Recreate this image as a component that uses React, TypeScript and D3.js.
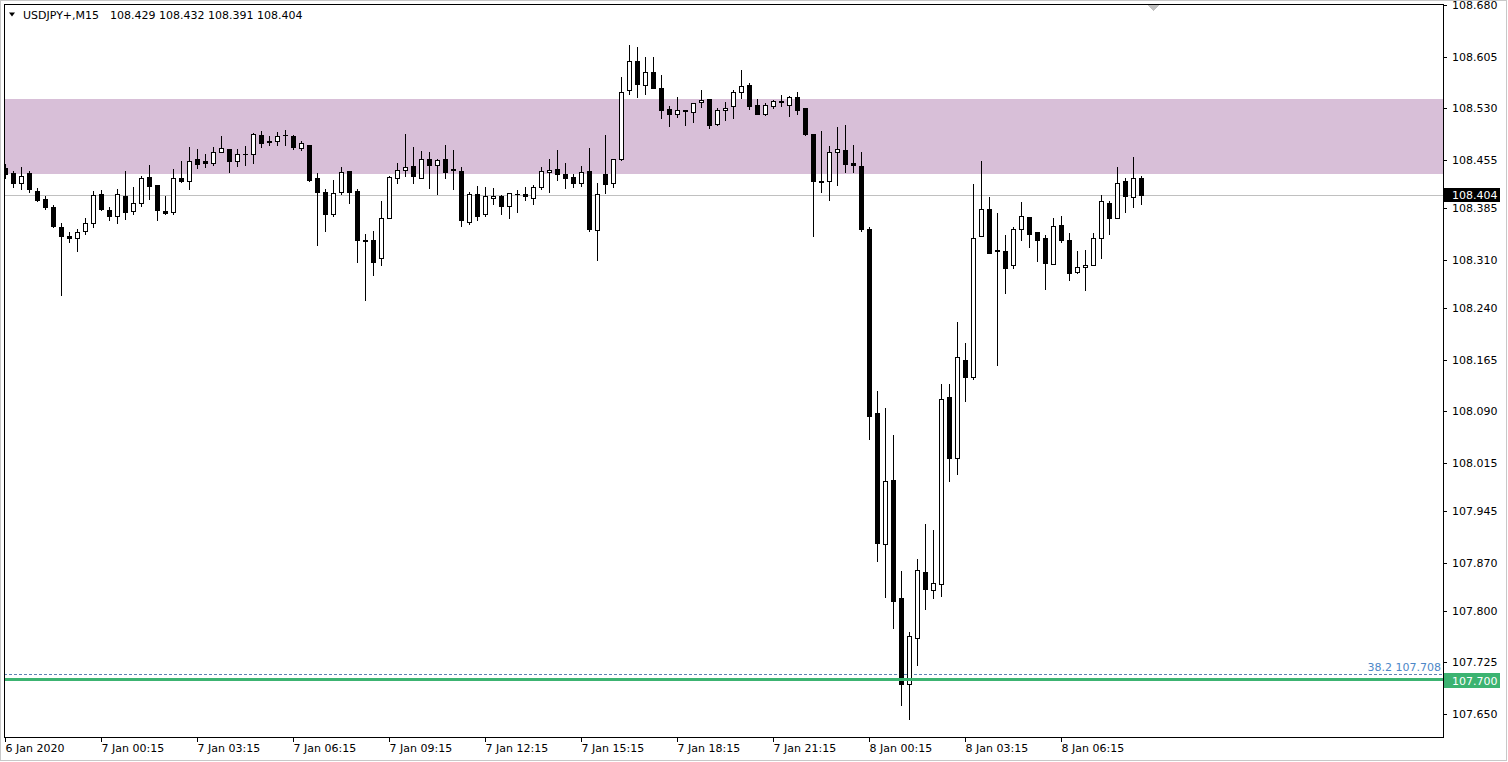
import React, { useEffect } from "react";
import * as d3 from "d3";

// ---- data ----
const opens = [
  108.443, 108.436, 108.422, 108.436, 108.410, 108.398, 108.387, 108.357, 108.345, 108.341,
  108.351, 108.364, 108.405, 108.382, 108.373, 108.402, 108.381, 108.393, 108.430, 108.419,
  108.381, 108.379, 108.428, 108.425, 108.456, 108.453, 108.451, 108.467, 108.471, 108.454,
  108.464, 108.463, 108.491, 108.483, 108.483, 108.491, 108.490, 108.472, 108.477, 108.428,
  108.408, 108.377, 108.408, 108.439, 108.410, 108.338, 108.338, 108.312, 108.370, 108.429,
  108.440, 108.446, 108.429, 108.457, 108.447, 108.457, 108.442, 108.439, 108.365, 108.405,
  108.377, 108.399, 108.402, 108.388, 108.405, 108.405, 108.400, 108.415, 108.438, 108.442,
  108.434, 108.430, 108.422, 108.439, 108.353, 108.434, 108.422, 108.457, 108.556, 108.598,
  108.564, 108.583, 108.560, 108.529, 108.521, 108.528, 108.524, 108.539, 108.543, 108.507,
  108.528, 108.533, 108.553, 108.564, 108.535, 108.521, 108.533, 108.540, 108.534, 108.547,
  108.530, 108.492, 108.425, 108.425, 108.466, 108.469, 108.450, 108.446, 108.355, 108.087,
  107.897, 107.990, 107.818, 107.694, 107.760, 107.856, 107.830, 107.839, 108.111, 108.022,
  108.164, 108.139, 108.344, 108.383, 108.324, 108.323, 108.303, 108.354, 108.372, 108.350,
  108.341, 108.304, 108.360, 108.338, 108.292, 108.299, 108.303, 108.341, 108.393, 108.370,
  108.424, 108.401, 108.429,
];
const highs = [
  108.449, 108.439, 108.445, 108.439, 108.414, 108.402, 108.389, 108.364, 108.350, 108.354,
  108.370, 108.410, 108.411, 108.386, 108.413, 108.439, 108.416, 108.432, 108.448, 108.419,
  108.402, 108.442, 108.454, 108.474, 108.471, 108.464, 108.474, 108.490, 108.471, 108.471,
  108.475, 108.494, 108.497, 108.490, 108.495, 108.498, 108.491, 108.482, 108.477, 108.436,
  108.412, 108.426, 108.445, 108.439, 108.413, 108.347, 108.352, 108.395, 108.431, 108.451,
  108.492, 108.474, 108.468, 108.466, 108.457, 108.477, 108.469, 108.445, 108.408, 108.417,
  108.416, 108.414, 108.404, 108.407, 108.411, 108.416, 108.418, 108.445, 108.457, 108.469,
  108.450, 108.435, 108.446, 108.472, 108.421, 108.491, 108.457, 108.575, 108.622, 108.619,
  108.605, 108.604, 108.579, 108.533, 108.546, 108.528, 108.537, 108.556, 108.543, 108.531,
  108.539, 108.556, 108.585, 108.566, 108.543, 108.537, 108.542, 108.549, 108.548, 108.553,
  108.530, 108.492, 108.497, 108.475, 108.503, 108.505, 108.477, 108.466, 108.357, 108.119,
  108.094, 108.056, 107.858, 107.769, 107.875, 107.926, 107.917, 108.129, 108.129, 108.219,
  108.189, 108.420, 108.453, 108.401, 108.378, 108.346, 108.357, 108.394, 108.372, 108.350,
  108.346, 108.370, 108.374, 108.349, 108.322, 108.324, 108.349, 108.404, 108.395, 108.445,
  108.428, 108.459, 108.432,
];
const lows = [
  108.428, 108.416, 108.412, 108.408, 108.395, 108.384, 108.357, 108.258, 108.335, 108.322,
  108.348, 108.357, 108.382, 108.368, 108.364, 108.369, 108.377, 108.388, 108.398, 108.367,
  108.377, 108.376, 108.423, 108.413, 108.443, 108.444, 108.448, 108.467, 108.437, 108.446,
  108.447, 108.451, 108.474, 108.476, 108.476, 108.476, 108.471, 108.470, 108.424, 108.332,
  108.351, 108.374, 108.405, 108.393, 108.306, 108.251, 108.288, 108.302, 108.370, 108.422,
  108.432, 108.422, 108.428, 108.414, 108.405, 108.429, 108.412, 108.359, 108.362, 108.367,
  108.373, 108.391, 108.377, 108.370, 108.380, 108.397, 108.391, 108.412, 108.408, 108.426,
  108.414, 108.415, 108.417, 108.351, 108.309, 108.407, 108.415, 108.455, 108.550, 108.547,
  108.551, 108.559, 108.516, 108.504, 108.517, 108.505, 108.510, 108.532, 108.502, 108.505,
  108.513, 108.516, 108.545, 108.529, 108.521, 108.520, 108.531, 108.533, 108.519, 108.521,
  108.491, 108.344, 108.409, 108.396, 108.418, 108.437, 108.438, 108.351, 108.049, 107.872,
  107.820, 107.775, 107.663, 107.643, 107.721, 107.802, 107.819, 107.822, 107.988, 107.998,
  108.105, 108.137, 108.344, 108.319, 108.157, 108.262, 108.298, 108.339, 108.328, 108.308,
  108.267, 108.304, 108.335, 108.281, 108.290, 108.266, 108.303, 108.313, 108.348, 108.370,
  108.380, 108.387, 108.391,
];
const closes = [
  108.434, 108.422, 108.431, 108.412, 108.396, 108.386, 108.359, 108.344, 108.342, 108.350,
  108.364, 108.404, 108.383, 108.373, 108.405, 108.380, 108.393, 108.428, 108.417, 108.382,
  108.378, 108.428, 108.425, 108.454, 108.449, 108.450, 108.466, 108.472, 108.454, 108.463,
  108.463, 108.492, 108.480, 108.481, 108.489, 108.491, 108.473, 108.479, 108.426, 108.409,
  108.376, 108.407, 108.437, 108.409, 108.338, 108.337, 108.307, 108.370, 108.430, 108.440,
  108.444, 108.431, 108.457, 108.447, 108.455, 108.438, 108.440, 108.368, 108.405, 108.374,
  108.402, 108.402, 108.388, 108.407, 108.405, 108.402, 108.415, 108.439, 108.441, 108.434,
  108.429, 108.422, 108.437, 108.354, 108.405, 108.420, 108.457, 108.554, 108.598, 108.565,
  108.582, 108.560, 108.528, 108.521, 108.528, 108.526, 108.537, 108.542, 108.505, 108.527,
  108.531, 108.553, 108.562, 108.533, 108.522, 108.534, 108.540, 108.539, 108.547, 108.528,
  108.492, 108.425, 108.423, 108.466, 108.471, 108.449, 108.447, 108.355, 108.083, 107.898,
  107.988, 107.814, 107.694, 107.763, 107.859, 107.832, 107.841, 108.108, 108.022, 108.169,
  108.139, 108.342, 108.383, 108.319, 108.323, 108.298, 108.354, 108.373, 108.348, 108.339,
  108.305, 108.359, 108.339, 108.290, 108.299, 108.303, 108.341, 108.395, 108.371, 108.422,
  108.402, 108.428, 108.404,
];

const priceTicks = [
  "108.680", "108.605", "108.530", "108.455", "108.385", "108.310", "108.240", "108.165",
  "108.090", "108.015", "107.945", "107.870", "107.800", "107.725", "107.650",
];
const timeLabels = [
  "6 Jan 2020", "7 Jan 00:15", "7 Jan 03:15", "7 Jan 06:15", "7 Jan 09:15", "7 Jan 12:15",
  "7 Jan 15:15", "7 Jan 18:15", "7 Jan 21:15", "8 Jan 00:15", "8 Jan 03:15", "8 Jan 06:15",
];
const barsPerLabel = 12;
const zoneTop = 108.543;
const zoneBottom = 108.435;
const bidPrice = 108.404;
const supportPrice = 107.7;
const fibPrice = 107.708;
const fibLabel = "38.2 107.708";
const symbol = "USDJPY+,M15";
const headerValues = ["108.429", "108.432", "108.391", "108.404"];

const FONT = "'DejaVu Sans', Verdana, sans-serif";

export default function App() {
  useEffect(() => {
    document.body.style.margin = "0";
  }, []);

  const W = 1508;
  const H = 762;
  const L = 4;
  const R = 1443;
  const T = 4;
  const B = 737;

  const n = opens.length;
  const x = d3.scaleLinear().domain([0, n - 1]).range([5.5, 5.5 + 8 * (n - 1)]);
  const y = d3.scaleLinear().domain([107.65, 108.68]).range([714, 5]);
  const ry = (v: number) => Math.round(y(v));

  const candles = d3.range(n).map((i) => {
    const o = opens[i], h = highs[i], l = lows[i], c = closes[i];
    const cx = x(i);
    const yh = ry(h);
    const yl = ry(l);
    const yt = ry(Math.max(o, c));
    const yb = ry(Math.min(o, c));
    const bull = c > o;
    const bodyH = yb - yt;
    return (
      <g key={i}>
        <rect x={cx - 0.5} y={yh} width={1} height={yl - yh + 1} fill="#000" />
        {bodyH <= 1 ? (
          <rect x={cx - 2.5} y={yt} width={5} height={bodyH + 1} fill="#000" />
        ) : bull ? (
          <rect x={cx - 2} y={yt + 0.5} width={4} height={bodyH} fill="#fff" stroke="#000" strokeWidth={1} />
        ) : (
          <rect x={cx - 2.5} y={yt} width={5} height={bodyH + 1} fill="#000" />
        )}
      </g>
    );
  });

  const yBid = ry(bidPrice);
  const ySup = y(supportPrice);
  const yFib = ry(fibPrice);

  return (
    <svg
      width={W}
      height={H}
      style={{ position: "absolute", left: 0, top: 0, background: "#fff" }}
      shapeRendering="crispEdges"
    >
      <defs>
        <clipPath id="plot">
          <rect x={L + 1} y={T + 1} width={R - L - 1} height={B - T - 1} />
        </clipPath>
      </defs>
      <rect x={0} y={0} width={W} height={H} fill="#fff" />
      <rect x={0.5} y={0.5} width={W - 2} height={H - 2} fill="none" stroke="#c8c8c8" />

      <g clipPath="url(#plot)">
        <rect x={L} y={y(zoneTop)} width={R - L} height={y(zoneBottom) - y(zoneTop)} fill="#d8bfd8" />
        <line x1={L} x2={R} y1={yBid + 0.5} y2={yBid + 0.5} stroke="#c0c0c0" />
        <line x1={L} x2={R} y1={yFib + 0.5} y2={yFib + 0.5} stroke="#5b84b1" strokeDasharray="3,2" />
        {candles}
        <line x1={L} x2={R} y1={ySup} y2={ySup} stroke="#3cb371" strokeWidth={3} />
        <polygon points={`1147,${T + 1} 1159,${T + 1} 1153,${T + 7}`} fill="#c0c0c0" />
      </g>

      <text
        x={R - 2}
        y={yFib - 3}
        textAnchor="end"
        fontFamily={FONT}
        fontSize={11}
        fill="#4d87c7"
      >
        {fibLabel}
      </text>

      {/* header */}
      <polygon points="9,12.5 15,12.5 12,16.5" fill="#000" shapeRendering="auto" />
      <text x={23} y={18.5} fontFamily={FONT} fontSize={11} fill="#000">
        {symbol}
      </text>
      <text x={110} y={18.5} fontFamily={FONT} fontSize={11} fill="#000">
        {headerValues.join(" ")}
      </text>

      {/* frame */}
      <rect x={L + 0.5} y={T + 0.5} width={R - L} height={B - T} fill="none" stroke="#000" />

      {/* price axis */}
      {priceTicks.map((t) => {
        const ty = ry(+t);
        return (
          <g key={t}>
            <line x1={R} x2={R + 4} y1={ty + 0.5} y2={ty + 0.5} stroke="#000" />
            <text x={1452} y={ty + 4} fontFamily={FONT} fontSize={11} fill="#000">
              {t}
            </text>
          </g>
        );
      })}

      <rect x={R + 1} y={yBid - 7} width={56} height={14} fill="#000" />
      <text x={1452} y={yBid + 4} fontFamily={FONT} fontSize={11} fill="#fff">
        {bidPrice.toFixed(3)}
      </text>

      <rect x={R + 1} y={Math.round(ySup) - 7} width={56} height={15} fill="#3cb371" />
      <text x={1452} y={Math.round(ySup) + 4.5} fontFamily={FONT} fontSize={11} fill="#fff">
        {supportPrice.toFixed(3)}
      </text>

      {/* time axis */}
      {timeLabels.map((t, i) => {
        const tx = Math.floor(x(i * barsPerLabel)) + 0.5;
        return (
          <g key={t}>
            <line x1={tx} x2={tx} y1={B} y2={B + 5} stroke="#000" />
            <text x={tx} y={752} fontFamily={FONT} fontSize={11} fill="#000">
              {t}
            </text>
          </g>
        );
      })}
    </svg>
  );
}
